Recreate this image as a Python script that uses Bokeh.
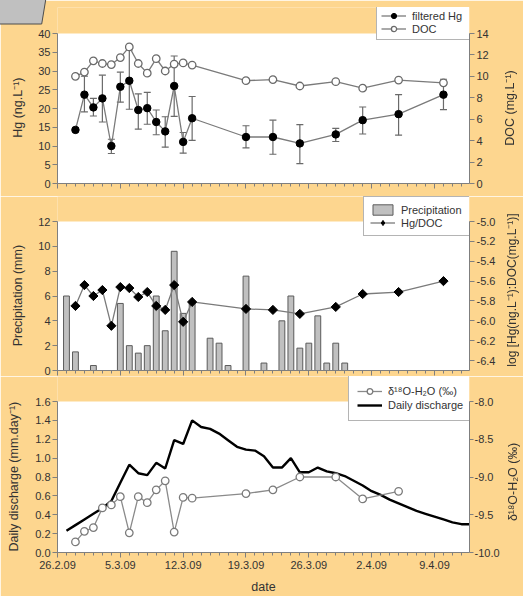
import math
from datetime import datetime
from bokeh.plotting import figure
from bokeh.layouts import column
from bokeh.models import (Range1d, LinearAxis, FixedTicker, ColumnDataSource, Whisker, TeeHead,
                          Legend, LegendItem, PrintfTickFormatter, Div, CustomJSTickFormatter)
from bokeh.embed import file_html
from bokeh.resources import INLINE

# ---------------- data ----------------
start_date = "26.2.09"
tick_labels = ["26.2.09", "5.3.09", "12.3.09", "19.3.09", "26.3.09", "2.4.09", "9.4.09"]

sample_dates = ["28.2.09", "1.3.09", "2.3.09", "3.3.09", "4.3.09", "5.3.09", "6.3.09",
                "7.3.09", "8.3.09", "9.3.09", "10.3.09", "11.3.09", "12.3.09", "13.3.09",
                "19.3.09", "22.3.09", "25.3.09", "29.3.09", "1.4.09", "5.4.09", "10.4.09"]
hg = [14.3, 23.7, 20.3, 22.7, 10.0, 25.8, 27.4, 19.6, 20.1, 16.4, 13.9, 26.0, 11.1, 17.4,
      12.4, 12.4, 10.7, 13.1, 16.9, 18.5, 23.7]
hg_low = [13.9, 19.1, 18.0, 16.4, 8.0, 21.7, 19.8, 14.5, 15.8, 13.0, 9.7, 17.9, 8.1, 11.5,
          9.5, 7.8, 5.3, 11.2, 13.2, 12.9, 19.7]
hg_high = [14.7, 28.6, 22.7, 28.9, 11.8, 29.7, 35.6, 23.9, 24.3, 19.6, 17.8, 34.0, 13.6, 23.2,
           15.4, 16.9, 15.7, 14.7, 20.4, 23.7, 27.8]
doc = [10.0, 10.4, 11.45, 11.2, 11.1, 11.75, 12.75, 11.2, 10.3, 11.65, 10.5, 11.15, 11.25, 11.05,
       9.6, 9.7, 9.1, 9.5, 8.9, 9.65, 9.4]
hg_doc = [-5.85, -5.64, -5.75, -5.69, -6.05, -5.66, -5.67, -5.76, -5.71, -5.85, -5.89, -5.64,
          -6.01, -5.81, -5.88, -5.89, -5.93, -5.86, -5.73, -5.71, -5.60]

d18o_dates = sample_dates[:20]
d18o = [-9.86, -9.72, -9.67, -9.41, -9.37, -9.26, -9.74, -9.26, -9.34, -9.17, -9.05, -9.73,
        -9.27, -9.28, -9.22, -9.17, -9.0, -9.0, -9.29, -9.19]

precip_dates = ["27.2.09", "28.2.09", "2.3.09", "5.3.09", "6.3.09", "7.3.09", "8.3.09", "9.3.09",
                "10.3.09", "11.3.09", "12.3.09", "13.3.09", "15.3.09", "16.3.09", "17.3.09",
                "19.3.09", "21.3.09", "23.3.09", "24.3.09", "25.3.09", "26.3.09", "27.3.09",
                "28.3.09", "29.3.09", "30.3.09"]
precip = [6.0, 1.5, 0.4, 5.4, 2.0, 1.4, 2.0, 6.0, 3.2, 9.6, 4.6, 5.5, 2.6, 2.2, 0.4,
          7.6, 0.6, 4.0, 6.0, 1.8, 2.2, 4.4, 0.6, 2.2, 0.6]

discharge_start = "27.2.09"
discharge = [0.23, 0.29, 0.35, 0.41, 0.47, 0.545, 0.74, 0.93, 0.84, 0.82,
             0.95, 0.89, 1.19, 1.15, 1.40, 1.33, 1.31, 1.26, 1.19, 1.12,
             1.09, 1.08, 1.02, 0.90, 0.90, 1.00, 0.85, 0.85, 0.90, 0.86,
             0.84, 0.81, 0.76, 0.71, 0.65, 0.61, 0.56, 0.52, 0.48, 0.44,
             0.41, 0.38, 0.35, 0.32, 0.30, 0.30]

# ---------------- helpers ----------------
T0 = datetime.strptime(start_date, "%d.%m.%y")


def day(s):
    return (datetime.strptime(s, "%d.%m.%y") - T0).days


FONT = "Liberation Sans"
BG = "#FDD68F"
AX = "#7F7F7F"
TXT = "#333333"
LINE = "#7A7A7A"
W = 523
X_END = 45.9
NB = "\u00a0" * 7   # nudges the left titles down to the centre of the white plot area

major_days = [day(t) for t in tick_labels]
minor_days = list(range(0, 46))

x_s = [day(d) for d in sample_dates]
x_d18 = [day(d) for d in d18o_dates]
x_p = [day(d) for d in precip_dates]
d0 = day(discharge_start)
x_q = [d0 + i for i in range(len(discharge))]


def ext_range(lo, hi, plot_px, frame_px):
    # the frame is taller than the white plot area (room for the legend above it)
    return Range1d(lo, lo + (hi - lo) * frame_px / plot_px)


def make_fig(h, left, right, top, bottom, yr, ylo, yhi):
    p = figure(width=W, height=h, output_backend="svg", toolbar_location=None,
               x_range=Range1d(0, X_END), y_range=yr,
               min_border_left=left, min_border_right=right,
               min_border_top=top, min_border_bottom=bottom,
               border_fill_color=BG, background_fill_color=BG,
               outline_line_color=None)
    p.xgrid.visible = False
    p.ygrid.visible = False
    # white plotting area limited to the axis range
    p.quad(left=[0], right=[X_END], bottom=[ylo], top=[yhi], fill_color="white",
           line_color=None, level="underlay")
    return p


def style_axis(ax, label_size="12.5px"):
    ax.axis_line_color = AX
    ax.major_tick_line_color = AX
    ax.minor_tick_line_color = AX
    ax.major_label_text_font = FONT
    ax.major_label_text_font_size = "11px"
    ax.major_label_text_color = TXT
    ax.axis_label_text_font = FONT
    ax.axis_label_text_font_size = label_size
    ax.axis_label_text_font_style = "normal"
    ax.axis_label_text_color = TXT
    ax.major_tick_in = 0
    ax.major_tick_out = 5
    ax.minor_tick_in = 0
    ax.minor_tick_out = 0
    ax.major_label_standoff = 2


def style_xaxis(ax, show_labels):
    style_axis(ax)
    ax.ticker = FixedTicker(ticks=major_days, minor_ticks=minor_days)
    ax.major_tick_out = 5
    ax.minor_tick_out = 3
    if show_labels:
        ax.formatter = CustomJSTickFormatter(
            args=dict(pos=major_days, lab=tick_labels),
            code="const i = pos.indexOf(Math.round(tick)); return i >= 0 ? lab[i] : '';")
    else:
        ax.formatter = CustomJSTickFormatter(code="return '';")
        ax.major_label_text_font_size = "0px"
        ax.major_label_standoff = 0


def make_legend(items, loc, pad, glyph_h, label_w):
    return Legend(items=items, location=loc, padding=pad, spacing=0, margin=0,
                  glyph_width=25, glyph_height=glyph_h, label_height=glyph_h,
                  label_width=label_w, label_standoff=6,
                  label_text_font=FONT, label_text_font_size="11px", label_text_color=TXT,
                  label_text_baseline="middle",
                  border_line_color="#6A6A6A", border_line_width=1.2,
                  background_fill_color="white", background_fill_alpha=1.0)


# ---------------- panel 1: Hg & DOC ----------------
p1 = make_fig(196, 53, 54, 7, 13, ext_range(0, 40, 150, 176), 0, 40)
p1.extra_y_ranges = {"doc": ext_range(0, 14, 150, 176)}
style_xaxis(p1.xaxis[0], False)
style_axis(p1.yaxis[0])
p1.yaxis[0].ticker = FixedTicker(ticks=list(range(0, 41, 5)))
p1.yaxis[0].bounds = (0, 40)
p1.yaxis[0].axis_label = "Hg (ng.L⁻¹)" + NB
p1.yaxis[0].axis_label_standoff = 10
ax1r = LinearAxis(y_range_name="doc", ticker=FixedTicker(ticks=list(range(0, 15, 2))),
                  bounds=(0, 14))
style_axis(ax1r)
p1.add_layout(ax1r, "right")

src1 = ColumnDataSource(dict(x=x_s, hg=hg, lo=hg_low, hi=hg_high, doc=doc, r=hg_doc))
hg_line = p1.line("x", "hg", source=src1, line_color=LINE, line_width=1.3)
p1.add_layout(Whisker(source=src1, base="x", lower="lo", upper="hi", line_color="#6A6A6A",
                      line_width=1.2,
                      lower_head=TeeHead(size=7, line_color="#6A6A6A", line_width=1.2),
                      upper_head=TeeHead(size=7, line_color="#6A6A6A", line_width=1.2)))
hg_pts = p1.scatter("x", "hg", source=src1, marker="circle", size=7.5,
                    fill_color="black", line_color="black")
doc_line = p1.line("x", "doc", source=src1, y_range_name="doc", line_color=LINE, line_width=1.3)
doc_pts = p1.scatter("x", "doc", source=src1, y_range_name="doc", marker="circle", size=7.5,
                     fill_color="white", line_color="#6A6A6A", line_width=1.3)
p1.add_layout(make_legend([LegendItem(label="filtered Hg", renderers=[hg_line, hg_pts]),
                           LegendItem(label="DOC", renderers=[doc_line, doc_pts])],
                          (319, 143), 4, 13, 53))

# ---------------- panel 2: precipitation & Hg/DOC ----------------
p2 = make_fig(180, 53, 54, 0, 6, ext_range(0, 12, 149, 174), 0, 12)
p2.extra_y_ranges = {"ratio": ext_range(-6.5, -5.0, 149, 174)}
style_xaxis(p2.xaxis[0], False)
style_axis(p2.yaxis[0])
p2.yaxis[0].ticker = FixedTicker(ticks=list(range(0, 13, 2)))
p2.yaxis[0].bounds = (0, 12)
p2.yaxis[0].axis_label = "Precipitation (mm)" + NB
p2.yaxis[0].axis_label_standoff = 10
ax2r = LinearAxis(y_range_name="ratio",
                  ticker=FixedTicker(ticks=[round(-6.4 + 0.2 * i, 1) for i in range(8)]),
                  formatter=PrintfTickFormatter(format="%.1f"), bounds=(-6.5, -5.0))
style_axis(ax2r)
p2.add_layout(ax2r, "right")

src2 = ColumnDataSource(dict(x=x_p, p=precip))
bars = p2.vbar(x="x", top="p", width=0.65, source=src2, fill_color="#C0C0C0",
               line_color="#5A5A5A", line_width=1)
r_line = p2.line("x", "r", source=src1, y_range_name="ratio", line_color=LINE, line_width=1.3)
r_pts = p2.scatter("x", "r", source=src1, y_range_name="ratio", marker="square",
                   angle=math.pi / 4, size=6.5, fill_color="black", line_color="black")
# legend key only (no visible point)
r_key = p2.scatter(x=[float("nan")], y=[float("nan")], y_range_name="ratio", marker="diamond",
                   size=11, fill_color="black", line_color="black")
p2.add_layout(make_legend([LegendItem(label="Precipitation", renderers=[bars]),
                           LegendItem(label="Hg/DOC", renderers=[r_line, r_key])],
                          (306, 134), 6, 13, 62))

# ---------------- panel 3: discharge & d18O ----------------
p3 = make_fig(220, 57, 51, 0, 44, ext_range(0, 1.6, 151, 176), 0, 1.6)
p3.extra_y_ranges = {"d18o": ext_range(-10, -8, 151, 176)}
style_xaxis(p3.xaxis[0], True)
p3.xaxis[0].major_label_standoff = 3
p3.xaxis[0].axis_label = "date"
p3.xaxis[0].axis_label_standoff = 8
style_axis(p3.yaxis[0])
p3.yaxis[0].ticker = FixedTicker(ticks=[round(0.2 * i, 1) for i in range(9)])
p3.yaxis[0].formatter = PrintfTickFormatter(format="%.1f")
p3.yaxis[0].bounds = (0, 1.6)
p3.yaxis[0].axis_label = "Daily discharge (mm.day⁻¹)" + NB
p3.yaxis[0].axis_label_standoff = 11
ax3r = LinearAxis(y_range_name="d18o",
                  ticker=FixedTicker(ticks=[-10 + 0.5 * i for i in range(5)]),
                  formatter=PrintfTickFormatter(format="%.1f"), bounds=(-10, -8))
style_axis(ax3r)
ax3r.major_tick_out = 4
ax3r.major_label_standoff = 1
p3.add_layout(ax3r, "right")

src3 = ColumnDataSource(dict(x=x_q, q=discharge))
src4 = ColumnDataSource(dict(x=x_d18, d=d18o))
q_line = p3.line("x", "q", source=src3, line_color="black", line_width=2.4)
d_line = p3.line("x", "d", source=src4, y_range_name="d18o", line_color="#8A8A8A", line_width=1.3)
d_pts = p3.scatter("x", "d", source=src4, y_range_name="d18o", marker="circle", size=7.5,
                   fill_color="white", line_color="#7A7A7A", line_width=1.3)
p3.add_layout(make_legend([LegendItem(label="δ¹⁸O-H₂O (‰)", renderers=[d_line, d_pts]),
                           LegendItem(label="Daily discharge", renderers=[q_line])],
                          (291, 131), 8, 14, 76))

# ---------------- slide decoration and right-hand axis titles (read bottom to top) ----------------
right_titles = [("DOC (mg.L⁻¹)", 510, 108, "12.5px"),
                ("log [Hg(ng.L⁻¹):DOC(mg.L⁻¹)]", 512, 290, "12px"),
                ("δ¹⁸O-H₂O (‰)", 513, 482, "12.5px")]
html = ('<svg width="48" height="26" style="position:fixed;left:0;top:0;">'
        '<polygon points="-2,-2 46,-2 41.7,24 -2,24" fill="#C0C0C0" '
        'stroke="#4D4D4D" stroke-width="1"/></svg>')
for text, cx, cy, fs in right_titles:
    html += ('<div style="position:fixed;left:%dpx;top:%dpx;'
             'transform:translate(-50%%,-50%%) rotate(-90deg);'
             "font-family:'Liberation Sans';font-size:%s;color:%s;"
             'white-space:nowrap;line-height:1;">%s</div>' % (cx, cy, fs, TXT, text))
overlay = Div(text=html, width=0, height=0)

layout = column(p1, p2, p3, overlay, spacing=0)
open("out.html", "w").write(file_html(layout, INLINE))
